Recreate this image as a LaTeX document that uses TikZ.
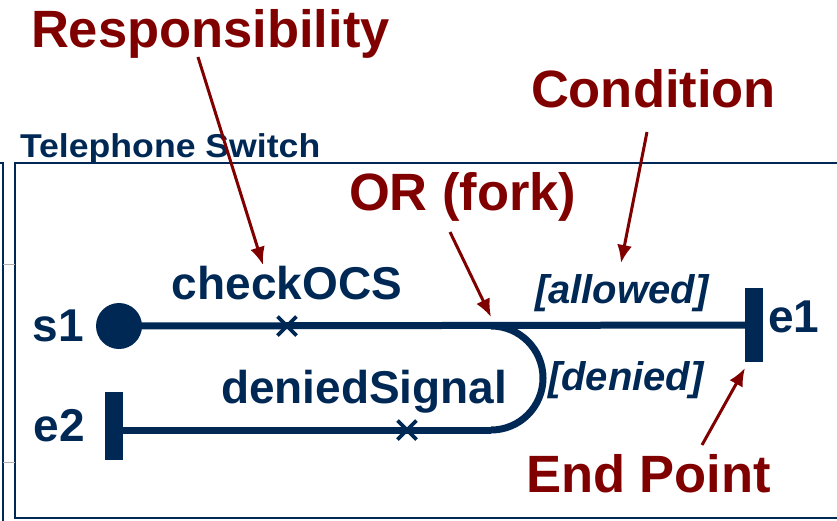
\documentclass[tikz,border=0pt]{standalone}
\usepackage{fontspec}
\setmainfont{Liberation Sans}
\newfontfamily\framefont[FakeStretch=1.08]{Liberation Sans}
\usepackage{tikz}
\usetikzlibrary{positioning}
\usetikzlibrary{arrows.meta}
\usetikzlibrary{shapes.misc}
\definecolor{ucmblue}{RGB}{0,40,85}
\definecolor{ucmred}{RGB}{128,0,0}

\begin{document}
\begin{tikzpicture}[ x = 1pt, y = -1pt
                   , >={Latex[width=15pt, length=18pt]}
                   , every node/.style = { inner sep = 0pt
                                         , outer sep = 0pt
                                         , text = ucmblue }
                   ]

  \useasboundingbox (0,0) rectangle (837,520);
  \clip (0,0) rectangle (837,520);

  \tikzset{ wire/.style = {draw=ucmblue, line width=7pt}
          , bar/.style = {fill=ucmblue, minimum width=18pt}
          , resp/.style = {cross out, draw=ucmblue, line width=3.6pt, minimum size=19pt}
          , elem/.style = {font=\fontsize{46}{50}\selectfont\bfseries}
          , cond/.style = {font=\fontsize{40}{44}\selectfont\bfseries\itshape}
          , remark/.style = {text=ucmred, font=\fontsize{52.5}{56}\selectfont\bfseries}
          , pointer/.style = {->, draw=ucmred, line width=3pt}
          , frame/.style = {draw=ucmblue, line width=2pt}}
  %%
  %% Component frames
  %%
  \draw[frame] (-5,163) -- (3,163) -- (3,525);
  \draw[frame] (845,163) -- (15,163) -- (15,518) -- (845,518);
  \draw[gray!60, line width=0.6pt] (3,264) -- (15,264) (3,462) -- (15,462);
  \node (switch) [anchor=base west, font=\fontsize{33}{36}\framefont\bfseries]
        at (20,157) {Telephone Switch};
  %%
  %% Path elements
  %%
  \node (s1) [circle, fill=ucmblue, minimum size=46pt] at (119,326) {};
  \node (e1) [bar, minimum height=74pt] at (754,325) {};
  \node (e2) [bar, minimum height=68pt] at (114,426) {};
  \coordinate (fork) at (491,326);
  \coordinate (join) at (491,430);

  \draw[wire] (s1.center) -- (e1.center);
  \draw[wire] (fork) arc[start angle=90, end angle=-90, radius=52pt];
  \draw[wire] (join) -- (join -| e2.center);

  \node (checkocs) [resp] at (287,326) {};
  \node (deniedsig) [resp] at (407,430) {};
  %%
  %% Labels
  %%
  \node (s1lab) [elem, left = 12pt of s1] {s1};
  \node (e1lab) [elem, right = 5pt of e1, yshift = 8pt] {e1};
  \node (e2lab) [elem, left = 20pt of e2] {e2};
  \node (checklab) [elem, above = 17pt of checkocs] {checkOCS};
  \node (deniedlab) [elem, anchor=base west] at (221,403) {deniedSignal};
  \node (allowed) [cond, anchor=base west] at (535,303) {[allowed]};
  \node (denied) [cond, anchor=base west] at (548,390) {[denied]};
  %%
  %% Annotations (arrows)
  %%
  \node (responsibility) [remark, anchor=base west] at (31,47) {Responsibility};
  \node (condition) [remark, anchor=base west] at (531,107) {Condition};
  \node (orfork) [remark, anchor=base west] at (349,210) {OR (fork)};
  \node (endpoint) [remark, anchor=base west] at (526,492) {End Point};

  \coordinate (resp-from) at (198,57);
  \coordinate (resp-to) at (263,265);
  \coordinate (cond-from) at (647,132);
  \coordinate (cond-to) at (621,263);
  \coordinate (fork-from) at (450,232);
  \coordinate (fork-to) at (491,317);
  \coordinate (end-from) at (702,445);
  \coordinate (end-to) at (745,368);

  \draw[pointer] (resp-from) -- (resp-to);
  \draw[pointer] (cond-from) -- (cond-to);
  \draw[pointer] (fork-from) -- (fork-to);
  \draw[pointer] (end-from) -- (end-to);
\end{tikzpicture}
\end{document}
